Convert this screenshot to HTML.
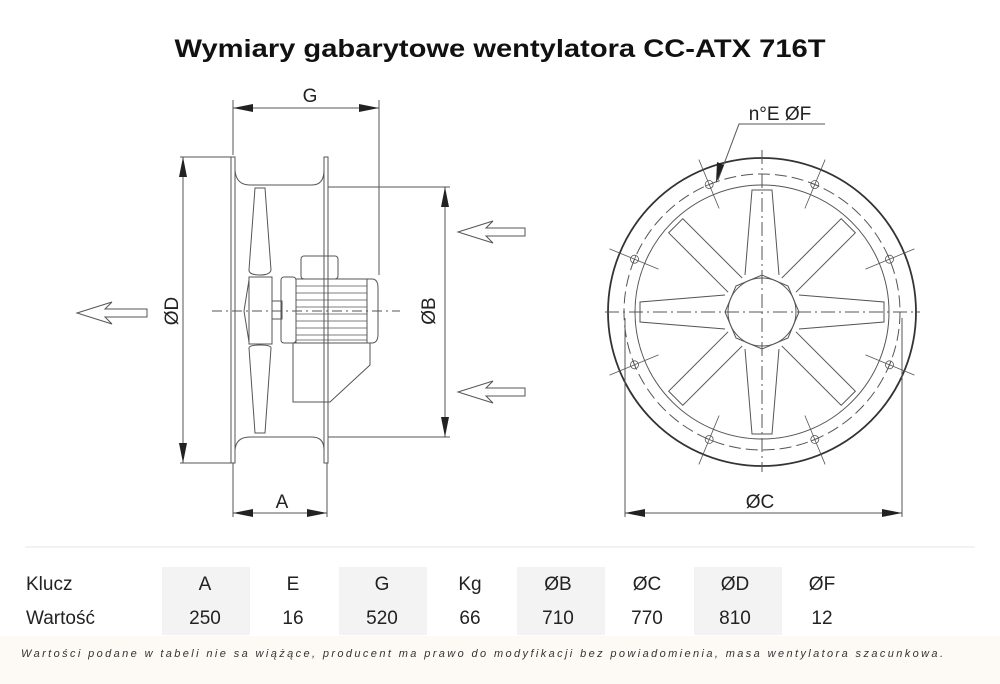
<!DOCTYPE html>
<html><head><meta charset="utf-8"><style>
html,body{margin:0;padding:0;background:#fff}
svg{display:block}
</style></head><body>
<svg width="1000" height="684" viewBox="0 0 1000 684" xmlns="http://www.w3.org/2000/svg" font-family="Liberation Sans, sans-serif">
<rect x="0" y="636" width="1000" height="48" fill="#fdfaf6"/>
<text x="500" y="57" text-anchor="middle" font-size="25" font-weight="bold" fill="#111" textLength="651" lengthAdjust="spacingAndGlyphs">Wymiary gabarytowe wentylatora CC-ATX 716T</text>

<g stroke="#555" stroke-width="1" fill="none">
<!-- LEFT VIEW -->
<!-- G dim -->
<line x1="233" y1="100" x2="233" y2="155"/>
<line x1="379" y1="100" x2="379" y2="275"/>
<line x1="233" y1="108" x2="379" y2="108"/>
<!-- flanges -->
<rect x="231" y="157" width="4" height="306"/>
<rect x="324" y="157" width="4" height="306"/>
<!-- duct -->
<path d="M235 170 Q236 185 250 185 L312 185 Q324 185 324 170"/>
<path d="M235 450 Q236 437 250 437 L312 437 Q324 437 324 450"/>
<!-- ØD -->
<line x1="180" y1="157" x2="231" y2="157"/>
<line x1="180" y1="463" x2="231" y2="463"/>
<line x1="183" y1="157" x2="183" y2="463"/>
<!-- ØB -->
<line x1="328" y1="187" x2="450" y2="187"/>
<line x1="328" y1="437" x2="450" y2="437"/>
<line x1="445" y1="187" x2="445" y2="437"/>
<!-- A -->
<line x1="233" y1="463" x2="233" y2="517"/>
<line x1="327" y1="463" x2="327" y2="517"/>
<line x1="233" y1="513" x2="327" y2="513"/>
<!-- blades -->
<path d="M255 188 L265 188 L271 270 Q270 275 260 275 Q249 275 249 270 Z"/>
<path d="M249 348 Q249 345 260 345 Q271 345 271 348 L265 433 L255 433 Z"/>
<!-- hub -->
<rect x="249" y="277" width="23" height="67"/>
<path d="M249 280 L244 311 L249 342"/>
<rect x="272" y="301" width="10" height="18"/>
<!-- motor -->
<rect x="281" y="277" width="15" height="66" rx="3"/>
<rect x="296" y="279" width="71" height="64"/>
<path d="M367 279 L372 279 Q378 279 378 288 L378 334 Q378 343 372 343 L367 343"/>
<g stroke-width="0.8">
<line x1="296" y1="286" x2="367" y2="286"/><line x1="296" y1="293" x2="367" y2="293"/>
<line x1="296" y1="300" x2="367" y2="300"/><line x1="296" y1="307" x2="367" y2="307"/>
<line x1="296" y1="314" x2="367" y2="314"/><line x1="296" y1="321" x2="367" y2="321"/>
<line x1="296" y1="328" x2="367" y2="328"/><line x1="296" y1="335" x2="367" y2="335"/>
<line x1="296" y1="340" x2="367" y2="340"/>
</g>
<rect x="301" y="256" width="37" height="23" rx="3"/>
<path d="M293 343 L370 343 L370 365 L330 402 L293 402 Z"/>
<!-- centre line -->
<line x1="212" y1="311" x2="400" y2="311" stroke-dasharray="10 4 2 4"/>
<!-- flow arrows -->
<path d="M77 313 L112 302 L105 309 L147 309 L147 317 L105 317 L112 324 Z"/>
<path d="M458 232 L493 221 L486 228 L525 228 L525 236 L486 236 L493 243 Z"/>
<path d="M458 392 L493 381 L486 388 L525 388 L525 396 L486 396 L493 403 Z"/>

<!-- RIGHT VIEW -->
<circle cx="762" cy="312" r="154" stroke-width="1.8" stroke="#333"/>
<circle cx="762" cy="312" r="138" stroke-dasharray="12 5"/>
<circle cx="762" cy="312" r="127"/>
<line x1="605" y1="312" x2="920" y2="312" stroke-dasharray="14 4 2 4"/>
<line x1="762" y1="150" x2="762" y2="472" stroke-dasharray="14 4 2 4"/>
<g transform="translate(762 312)">
<polygon points="37,0 26,26 0,37 -26,26 -37,0 -26,-26 0,-37 26,-26"/>
<circle r="34"/>
<g>
<path d="M-17 -37 L-10 -122 L10 -122 L17 -37"/>
<path d="M-17 37 L-10 122 L10 122 L17 37"/>
<path d="M-37 -17 L-122 -10 L-122 10 L-37 17"/>
<path d="M37 -17 L122 -10 L122 10 L37 17"/>
<g transform="rotate(45)"><path d="M-10 -38 L-10 -122 L10 -122 L10 -38"/></g>
<g transform="rotate(135)"><path d="M-10 -38 L-10 -122 L10 -122 L10 -38"/></g>
<g transform="rotate(225)"><path d="M-10 -38 L-10 -122 L10 -122 L10 -38"/></g>
<g transform="rotate(315)"><path d="M-10 -38 L-10 -122 L10 -122 L10 -38"/></g>
</g>
<g stroke-width="0.8">
<g transform="rotate(22.5)"><circle cy="-138" r="4"/><line y1="-112" y2="-165"/><line x1="-4" x2="4" y1="-138" y2="-138"/></g>
<g transform="rotate(67.5)"><circle cy="-138" r="4"/><line y1="-112" y2="-165"/><line x1="-4" x2="4" y1="-138" y2="-138"/></g>
<g transform="rotate(112.5)"><circle cy="-138" r="4"/><line y1="-112" y2="-165"/><line x1="-4" x2="4" y1="-138" y2="-138"/></g>
<g transform="rotate(157.5)"><circle cy="-138" r="4"/><line y1="-112" y2="-165"/><line x1="-4" x2="4" y1="-138" y2="-138"/></g>
<g transform="rotate(202.5)"><circle cy="-138" r="4"/><line y1="-112" y2="-165"/><line x1="-4" x2="4" y1="-138" y2="-138"/></g>
<g transform="rotate(247.5)"><circle cy="-138" r="4"/><line y1="-112" y2="-165"/><line x1="-4" x2="4" y1="-138" y2="-138"/></g>
<g transform="rotate(292.5)"><circle cy="-138" r="4"/><line y1="-112" y2="-165"/><line x1="-4" x2="4" y1="-138" y2="-138"/></g>
<g transform="rotate(337.5)"><circle cy="-138" r="4"/><line y1="-112" y2="-165"/><line x1="-4" x2="4" y1="-138" y2="-138"/></g>
</g>
</g>
<!-- ØC -->
<line x1="625" y1="318" x2="625" y2="517"/>
<line x1="902" y1="318" x2="902" y2="517"/>
<line x1="625" y1="513" x2="902" y2="513"/>
<!-- leader -->
<path d="M825 124 L739 124 L718 180"/>
<!-- separator -->
<line x1="25" y1="547" x2="975" y2="547" stroke="#e4e4e4"/>
</g>
<!-- arrowheads -->
<g fill="#222">
<path d="M233 108 L253 104 L253 112 Z"/><path d="M379 108 L359 104 L359 112 Z"/>
<path d="M183 157 L179 177 L187 177 Z"/><path d="M183 463 L179 443 L187 443 Z"/>
<path d="M445 187 L441 207 L449 207 Z"/><path d="M445 437 L441 417 L449 417 Z"/>
<path d="M233 513 L253 509 L253 517 Z"/><path d="M327 513 L307 509 L307 517 Z"/>
<path d="M625 513 L645 509 L645 517 Z"/><path d="M902 513 L882 509 L882 517 Z"/>
<path d="M716 183 L717 162 L724 165 Z"/>
</g>
<g fill="#222" font-size="19">
<text x="310" y="102" text-anchor="middle">G</text>
<text x="282" y="508" text-anchor="middle">A</text>
<text x="760" y="508" text-anchor="middle">ØC</text>
<text x="780" y="120" text-anchor="middle">n°E  ØF</text>
<text transform="translate(178 311) rotate(-90)" text-anchor="middle">ØD</text>
<text transform="translate(435 311) rotate(-90)" text-anchor="middle">ØB</text>
</g>
<!-- table -->
<g fill="#f3f3f3">
<rect x="162" y="567" width="88" height="68"/>
<rect x="339" y="567" width="88" height="68"/>
<rect x="517" y="567" width="88" height="68"/>
<rect x="694" y="567" width="88" height="68"/>
</g>
<g fill="#222" font-size="19" text-anchor="middle">
<text x="26" y="590" text-anchor="start">Klucz</text>
<text x="26" y="624" text-anchor="start">Wartość</text>
<text x="205" y="590">A</text><text x="293" y="590">E</text><text x="382" y="590">G</text><text x="470" y="590">Kg</text>
<text x="558" y="590">ØB</text><text x="647" y="590">ØC</text><text x="735" y="590">ØD</text><text x="822" y="590">ØF</text>
<text x="205" y="624">250</text><text x="293" y="624">16</text><text x="382" y="624">520</text><text x="470" y="624">66</text>
<text x="558" y="624">710</text><text x="647" y="624">770</text><text x="735" y="624">810</text><text x="822" y="624">12</text>
</g>
<text x="21" y="657" font-size="11" font-style="italic" fill="#333" textLength="922" lengthAdjust="spacing">Wartości podane w tabeli nie sa wiążące, producent ma prawo do modyfikacji bez powiadomienia, masa wentylatora szacunkowa.</text>
</svg>
</body></html>
